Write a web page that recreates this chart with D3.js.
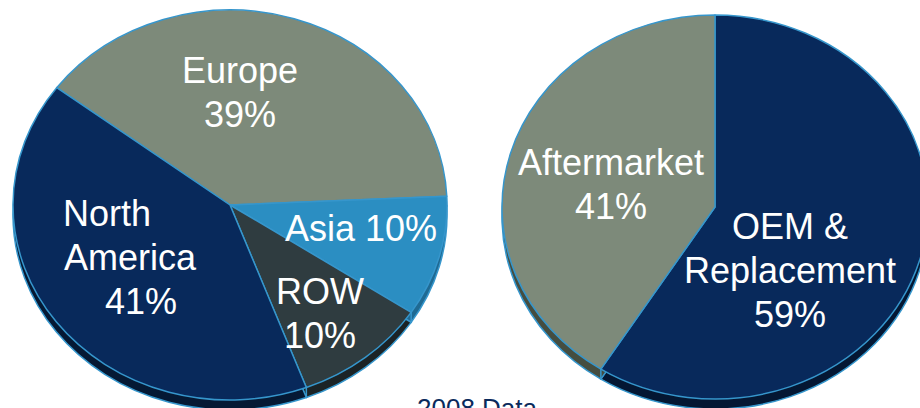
<!DOCTYPE html>
<html>
<head>
<meta charset="utf-8">
<script src="https://cdn.jsdelivr.net/npm/d3@7"></script>
<style>
  html, body { margin: 0; padding: 0; background: #fff; }
  svg { display: block; font-family: "Liberation Sans", Arial, sans-serif; }
</style>
</head>
<body>
<div id="chart"></div>
<script>
"use strict";

// regions (left pie), clockwise from the Europe / North America boundary
var regionNames = ["Europe", "Asia", "ROW", "North America"];
var regionValues = [39, 10, 10, 41];
var regionLabels = [["Europe", "39%"], ["Asia 10%"], ["ROW", "10%"], ["North", "America", "41%"]];

// channels (right pie), clockwise from 12 o'clock
var channelNames = ["OEM & Replacement", "Aftermarket"];
var channelValues = [59, 41];
var channelLabels = [["OEM &", "Replacement", "59%"], ["Aftermarket", "41%"]];

var footnote = "2008 Data";

var width = 920, height = 408;
var edge = "#3696cc";
var lineH = 44;

var svg = d3.select("#chart").append("svg")
    .attr("width", width)
    .attr("height", height);

// tilted pie: top face + dark rim offset below
function drawPie(opt) {
    var pie = d3.pie().sort(null).value(function (d) { return d; })
        .startAngle(opt.start * Math.PI / 180)
        .endAngle(opt.start * Math.PI / 180 + 2 * Math.PI);
    var arcs = pie(opt.values);
    var arc = d3.arc().innerRadius(0).outerRadius(opt.rx);
    var k = opt.ry / opt.rx;

    var g = svg.append("g");

    // rim (side of the disc)
    var rim = g.append("g")
        .attr("transform", "translate(" + opt.cx + "," + (opt.cy + opt.depth) + ") scale(1," + k + ")");
    rim.selectAll("path")
        .data(arcs)
        .enter().append("path")
        .attr("d", arc)
        .attr("fill", function (d, i) { return opt.rimColors[i]; })
        .attr("stroke", edge)
        .attr("stroke-width", 1.5)
        .attr("vector-effect", "non-scaling-stroke");

    // vertical joins on the rim at slice boundaries
    g.selectAll("line.join")
        .data(arcs)
        .enter().append("line")
        .attr("class", "join")
        .attr("x1", function (d) { return opt.cx + opt.rx * Math.sin(d.startAngle); })
        .attr("x2", function (d) { return opt.cx + opt.rx * Math.sin(d.startAngle); })
        .attr("y1", function (d) { return opt.cy - opt.ry * Math.cos(d.startAngle); })
        .attr("y2", function (d) { return opt.cy - opt.ry * Math.cos(d.startAngle) + opt.depth; })
        .attr("stroke", edge)
        .attr("stroke-width", 1.5)
        .style("display", function (d) { return Math.cos(d.startAngle) < 0 ? null : "none"; });

    // top face
    var top = g.append("g")
        .attr("transform", "translate(" + opt.cx + "," + opt.cy + ") scale(1," + k + ")");
    top.selectAll("path")
        .data(arcs)
        .enter().append("path")
        .attr("d", arc)
        .attr("fill", function (d, i) { return opt.colors[i]; })
        .attr("stroke", edge)
        .attr("stroke-width", 1.5)
        .attr("stroke-linejoin", "round")
        .attr("vector-effect", "non-scaling-stroke");

    // labels: [dx, dy, per-line x shifts] relative to the pie centre
    var lab = g.selectAll("text.lab")
        .data(arcs)
        .enter().append("text")
        .attr("class", "lab")
        .attr("text-anchor", "middle")
        .attr("fill", "#fff")
        .style("font-size", "36px");
    lab.each(function (d, i) {
        var p = opt.labelPos[i];
        d3.select(this).selectAll("tspan")
            .data(opt.labels[i])
            .enter().append("tspan")
            .attr("x", function (t, j) { return opt.cx + p[0] + (p[2] ? p[2][j] : 0); })
            .attr("y", function (t, j) { return opt.cy + p[1] + j * lineH; })
            .text(function (t) { return t; });
    });
}

drawPie({
    cx: 230, cy: 205, rx: 217, ry: 195, depth: 10, start: -53,
    values: regionValues,
    labels: regionLabels,
    colors: ["#7d8a7a", "#2b8ec2", "#2f3c40", "#08295b"],
    rimColors: ["#475043", "#1f6a93", "#1b2326", "#051934"],
    labelPos: [[10, -122], [131, 36], [90, 99], [-100, 21, [-23, 0, 11]]]
});

drawPie({
    cx: 715, cy: 207, rx: 213, ry: 192, depth: 10, start: 0,
    values: channelValues,
    labels: channelLabels,
    colors: ["#08295b", "#7d8a7a"],
    rimColors: ["#041733", "#454d40"],
    labelPos: [[75, 32], [-104, -32]]
});

svg.append("text")
    .attr("x", 477)
    .attr("y", 417)
    .attr("text-anchor", "middle")
    .attr("fill", "#0a2a5c")
    .style("font-size", "26px")
    .text(footnote);
</script>
</body>
</html>
